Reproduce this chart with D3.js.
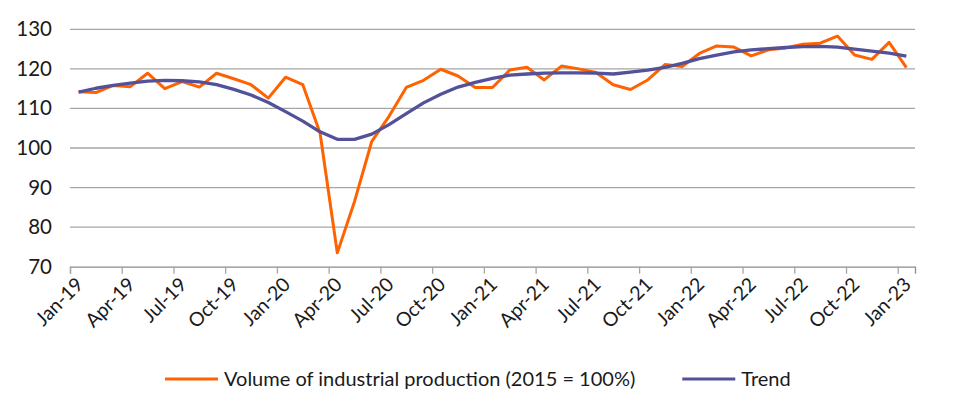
<!DOCTYPE html>
<html><head><meta charset="utf-8">
<script src="https://cdn.jsdelivr.net/npm/d3@7"></script>
<style>
html,body{margin:0;padding:0;background:#fff;}
svg text{font-family:Lato,"Open Sans",sans-serif;fill:#1a1a1a;}
</style></head>
<body><svg id="c" width="953" height="416"></svg>
<script>
const months = ["Jan-19","Feb-19","Mar-19","Apr-19","May-19","Jun-19","Jul-19","Aug-19","Sep-19","Oct-19","Nov-19","Dec-19",
"Jan-20","Feb-20","Mar-20","Apr-20","May-20","Jun-20","Jul-20","Aug-20","Sep-20","Oct-20","Nov-20","Dec-20",
"Jan-21","Feb-21","Mar-21","Apr-21","May-21","Jun-21","Jul-21","Aug-21","Sep-21","Oct-21","Nov-21","Dec-21",
"Jan-22","Feb-22","Mar-22","Apr-22","May-22","Jun-22","Jul-22","Aug-22","Sep-22","Oct-22","Nov-22","Dec-22","Jan-23"];
const production = [114.2,114.0,115.8,115.5,118.9,115.0,116.8,115.4,118.9,117.5,116.0,112.6,
117.9,116.0,103.8,73.5,86.5,101.7,108.0,115.3,117.1,119.9,118.2,115.3,
115.3,119.7,120.4,117.2,120.7,120.0,119.1,116.0,114.8,117.2,121.1,120.6,
123.9,125.8,125.5,123.3,124.8,125.3,126.2,126.5,128.3,123.5,122.4,126.7,120.3];
const trend = [114.1,115.1,115.8,116.4,116.9,117.1,117.0,116.7,116.0,114.8,113.4,111.5,
109.2,106.8,104.1,102.2,102.2,103.5,105.9,108.7,111.4,113.6,115.4,116.6,
117.6,118.4,118.7,118.9,119.0,119.0,118.9,118.7,119.2,119.7,120.4,121.4,
122.6,123.5,124.3,124.8,125.1,125.4,125.6,125.7,125.5,125.0,124.5,124.0,123.2];
const yTicks = [70,80,90,100,110,120,130];
const seriesNames = ["Volume of industrial production (2015 = 100%)","Trend"];
const colors = ["#ff6200","#525199"];

const svg = d3.select("#c");
const mLeft = 70, mRight = 915, mTop = 29.3, mBottom = 266.7;
const x = d3.scalePoint().domain(months).range([mLeft, mRight]).padding(0.5);
const xb = d3.scaleLinear().domain([0, months.length]).range([mLeft, mRight]);
const y = d3.scaleLinear().domain([70,130]).range([mBottom, mTop]);

// gridlines
svg.append("g").selectAll("line").data(yTicks.filter(v=>v>70)).join("line")
  .attr("x1",mLeft).attr("x2",mRight).attr("y1",d=>y(d)).attr("y2",d=>y(d))
  .attr("stroke","#a6a6a6").attr("stroke-width",1.3);

// y axis labels
const ya = svg.append("g").attr("transform",`translate(${mLeft},0)`)
  .call(d3.axisLeft(y).tickValues(yTicks).tickSize(0).tickPadding(18).tickFormat(d3.format("d")));
ya.select(".domain").remove();
ya.selectAll("text").attr("font-size",20.5).attr("font-family","Lato").attr("fill","#1a1a1a");

// x axis
const xa = svg.append("g").attr("transform",`translate(0,${mBottom})`)
  .call(d3.axisBottom(xb).tickValues(d3.range(0, months.length, 3)).tickSize(7).tickFormat(""));
xa.select(".domain").attr("stroke","#8c8c8c").attr("stroke-width",1.3);
xa.selectAll(".tick line").attr("stroke","#a6a6a6").attr("stroke-width",1.3);

svg.append("g").selectAll("text").data(months.filter((m,i)=>i%3===0)).join("text")
  .attr("text-anchor","end").attr("font-size",19.5)
  .attr("transform",d=>`translate(${x(d)+6},${mBottom+19}) rotate(-45)`)
  .text(d=>d);

// lines
const line = d3.line().x((d,i)=>x(months[i])).y(d=>y(d));
svg.append("path").datum(production).attr("d",line)
  .attr("fill","none").attr("stroke",colors[0]).attr("stroke-width",3).attr("stroke-linejoin","round");
svg.append("path").datum(trend).attr("d",line)
  .attr("fill","none").attr("stroke",colors[1]).attr("stroke-width",3.3).attr("stroke-linejoin","round");

// legend
const lg = svg.append("g");
let lx = 165;
seriesNames.forEach((n,i)=>{
  lg.append("line").attr("x1",lx).attr("x2",lx+53).attr("y1",379).attr("y2",379)
    .attr("stroke",colors[i]).attr("stroke-width",3);
  const t = lg.append("text").attr("x",lx+59).attr("y",386).attr("font-size",20).text(n);
  lx = lx + 59 + t.node().getComputedTextLength() + 47;
});
</script></body></html>
